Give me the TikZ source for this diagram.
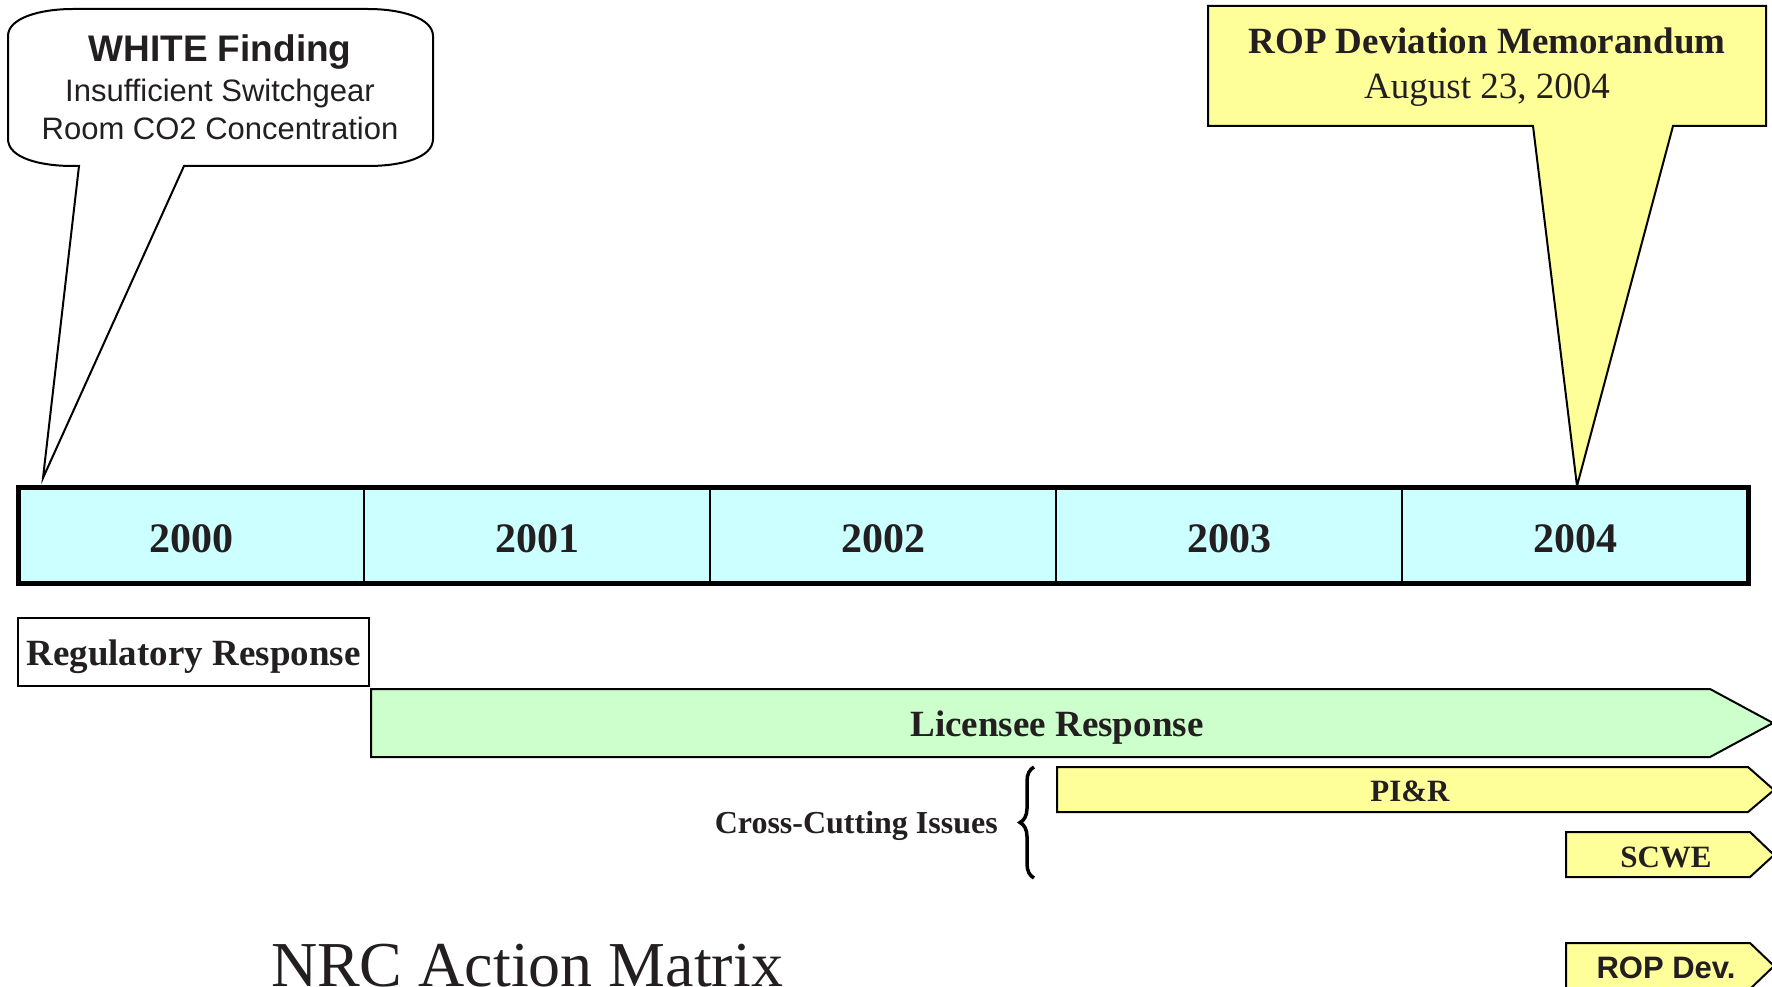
\documentclass[tikz,border=0pt]{standalone}
\usepackage{fontspec}
\setmainfont{Liberation Serif}
\newfontfamily\arialfont{Liberation Sans}
\usetikzlibrary{decorations.pathreplacing}
\definecolor{cyanfill}{RGB}{204,255,255}
\definecolor{yelfill}{RGB}{255,255,153}
\definecolor{grnfill}{RGB}{204,255,204}
\definecolor{txt}{RGB}{35,31,32}
\newcommand{\fs}[1]{\fontsize{#1}{#1}\selectfont}
\tikzset{
  callout/.style={draw=black, line width=2pt, line join=miter},
  cell/.style={draw=black, line width=2pt, fill=cyanfill},
  yearlbl/.style={text=txt, font=\bfseries\fs{42}, inner sep=0pt},
  bar/.style={draw=black, line width=2pt, line join=miter},
  barlbl/.style={text=txt, inner sep=0pt},
}
\begin{document}
\begin{tikzpicture}[x=1pt,y=-1pt]
\useasboundingbox (0,0) rectangle (1772,987);

% WHITE finding callout
\draw[callout, fill=white]
  (79,166) -- (73,166) .. controls (40,166) and (8,158) .. (8,139)
  -- (8,36) .. controls (8,18) and (40,9) .. (73,9)
  -- (368,9) .. controls (401,9) and (433,18) .. (433,36)
  -- (433,139) .. controls (433,158) and (401,166) .. (368,166)
  -- (184,166) -- (43,478) -- cycle;
\node[anchor=base, text=txt, font=\arialfont\bfseries\fs{37}, inner sep=0pt] (wf1) at (220,62) {WHITE Finding};
\node[anchor=base, text=txt, font=\arialfont\fs{31}, inner sep=0pt] (wf2) at (220,102) {Insufficient Switchgear};
\node[anchor=base, text=txt, font=\arialfont\fs{31}, inner sep=0pt] (wf3) at (220,140) {Room CO2 Concentration};

% ROP deviation callout
\draw[callout, fill=yelfill]
  (1533,126) -- (1208,126) -- (1208,6) -- (1766,6) -- (1766,126)
  -- (1673,126) -- (1577,486) -- cycle;
\node[anchor=base, text=txt, font=\bfseries\fs{37}, inner sep=0pt] (rop1) at (1487,54) {ROP Deviation Memorandum};
\node[anchor=base, text=txt, font=\fs{37}, inner sep=0pt] (rop2) at (1487,99) {August 23, 2004};

% timeline
\foreach \i/\yr in {0/2000,1/2001,2/2002,3/2003,4/2004}{
  \path[cell] ({18+346*\i},487) rectangle ({18+346*(\i+1)},583);
  \node[yearlbl] (y\yr) at ({18+346*\i+173},539) {\yr};
}
\draw[line width=5pt] (18,487) rectangle (1748,583);

% regulatory response
\node[draw=black, line width=1.5pt, minimum width=351pt, minimum height=68pt, inner sep=0pt] (reg) at (193.5,652) {};
\node[barlbl, font=\bfseries\fs{37}] (regt) at (193.5,657) {Regulatory Response};

% licensee response
\draw[bar, fill=grnfill] (371,689) -- (1710,689) -- (1773,723) -- (1710,757) -- (371,757) -- cycle;
\node[barlbl, font=\bfseries\fs{37}] (lic) at (1057,728) {Licensee Response};

% PI&R
\draw[bar, fill=yelfill] (1057,767) -- (1748,767) -- (1774,790) -- (1748,812) -- (1057,812) -- cycle;
\node[barlbl, font=\bfseries\fs{31}] (pir) at (1410,791) {PI\&R};

% SCWE
\draw[bar, fill=yelfill] (1566,832) -- (1750,832) -- (1774,855) -- (1750,877) -- (1566,877) -- cycle;
\node[barlbl, font=\bfseries\fs{31}] (scwe) at (1666,857) {SCWE};

% ROP Dev.
\draw[bar, fill=yelfill] (1566,943) -- (1750,943) -- (1774,966) -- (1750,989) -- (1566,989) -- cycle;
\node[barlbl, font=\arialfont\bfseries\fs{31}] (ropdev) at (1666,968) {ROP Dev.};

% cross-cutting issues
\node[anchor=base east, text=txt, font=\bfseries\fs{32}, inner sep=0pt] (cci) at (998,833) {Cross-Cutting Issues};
\coordinate (bb) at (1034,878);
\coordinate (bt) at (1034,767);
\draw[line width=3.5pt, decorate, decoration={brace, amplitude=14pt}] (bb) -- (bt);

% title
\node[anchor=base, text=txt, font=\fs{64}, inner sep=0pt] (nrc) at (527,986) {NRC Action Matrix};
\end{tikzpicture}
\end{document}
